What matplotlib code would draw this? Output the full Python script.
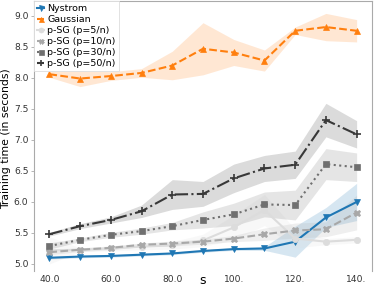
import matplotlib
matplotlib.use("Agg")
import matplotlib.pyplot as plt
import numpy as np

s = [40, 50, 60, 70, 80, 90, 100, 110, 120, 130, 140]
xtick_vals = [40, 60, 80, 100, 120, 140]
xtick_labels = ["40.0", "60.0", "80.0", "100.", "120.", "140."]
ytick_vals = [5.0, 5.5, 6.0, 6.5, 7.0, 7.5, 8.0, 8.5, 9.0]

nystrom = [5.10, 5.12, 5.13, 5.15, 5.17, 5.21, 5.24, 5.25, 5.36, 5.75, 6.00]
nystrom_std = [0.02, 0.02, 0.02, 0.02, 0.02, 0.02, 0.02, 0.03, 0.25, 0.16, 0.30]
gaussian = [8.06, 7.99, 8.03, 8.08, 8.20, 8.47, 8.41, 8.28, 8.76, 8.82, 8.76]
gaussian_std = [0.05, 0.13, 0.07, 0.07, 0.23, 0.42, 0.21, 0.17, 0.06, 0.22, 0.18]
psg5 = [5.22, 5.23, 5.25, 5.28, 5.30, 5.38, 5.59, 5.87, 5.41, 5.36, 5.39]
psg5_std = [0.22, 0.03, 0.04, 0.05, 0.06, 0.10, 0.20, 0.25, 0.15, 0.05, 0.05]
psg10 = [5.19, 5.23, 5.26, 5.31, 5.33, 5.36, 5.41, 5.48, 5.54, 5.56, 5.83]
psg10_std = [0.04, 0.03, 0.03, 0.03, 0.04, 0.04, 0.05, 0.10, 0.12, 0.12, 0.28]
psg30 = [5.29, 5.39, 5.47, 5.53, 5.61, 5.71, 5.80, 5.96, 5.95, 6.61, 6.56]
psg30_std = [0.05, 0.03, 0.04, 0.05, 0.06, 0.13, 0.18, 0.20, 0.24, 0.25, 0.23]
psg50 = [5.48, 5.61, 5.71, 5.85, 6.12, 6.13, 6.38, 6.54, 6.60, 7.32, 7.09]
psg50_std = [0.03, 0.04, 0.05, 0.10, 0.24, 0.20, 0.23, 0.21, 0.22, 0.27, 0.22]

series = [
    ("Nystrom", nystrom, nystrom_std, "#1f77b4", "-", "v"),
    ("Gaussian", gaussian, gaussian_std, "#ff7f0e", "--", "^"),
    ("p-SG (p=5/n)", psg5, psg5_std, "#dcdcdc", "-", "o"),
    ("p-SG (p=10/n)", psg10, psg10_std, "#a8a8a8", "--", "X"),
    ("p-SG (p=30/n)", psg30, psg30_std, "#707070", ":", "s"),
    ("p-SG (p=50/n)", psg50, psg50_std, "#383838", "-.", "+"),
]

fig = plt.figure(figsize=(3.74, 2.88), dpi=100)
ax = fig.add_axes([34 / 374, 17 / 288, 338 / 374, 270 / 288])

x = np.array(s)
for label, vals, std, color, ls, mk in series:
    v = np.array(vals)
    sd = np.array(std)
    ax.fill_between(x, v - sd, v + sd, color=color, alpha=0.18, linewidth=0)
for label, vals, std, color, ls, mk in series:
    if mk == "+":
        ms, mew = 6, 1.2
    else:
        ms, mew = 4.5, 0.5
    ax.plot(x, vals, color=color, linestyle=ls, marker=mk, markersize=ms,
            linewidth=1.5, label=label, markeredgewidth=mew)

ax.set_xlim(35, 145)
ax.set_ylim(4.887, 9.24)
ax.set_xticks(xtick_vals)
ax.set_xticklabels(xtick_labels)
ax.set_yticks(ytick_vals)
ax.set_yticklabels([f"{t:.1f}" for t in ytick_vals])
ax.tick_params(axis="both", labelsize=6.6, colors="#333333", length=2, width=0.6)
ax.tick_params(axis="x", length=0, pad=3)
ax.tick_params(axis="y", color="#aaaaaa", pad=2)
for sp in ["left", "right", "top"]:
    ax.spines[sp].set_color("#aaaaaa")
    ax.spines[sp].set_linewidth(0.8)
ax.spines["bottom"].set_visible(False)

ax.set_ylabel("Training time (in seconds)", fontsize=7.8)
ax.yaxis.set_label_coords(-0.068, 0.49)
ax.set_xlabel("s", fontsize=9, labelpad=-7)

leg = ax.legend(loc="upper left", fontsize=6.8, handlelength=0.8,
                handletextpad=0.3, labelspacing=0.22, borderpad=0.3,
                borderaxespad=0.0, frameon=True, fancybox=False,
                framealpha=1.0, edgecolor="#dddddd", markerscale=0.8)
leg.get_frame().set_linewidth(0.6)

fig.savefig("out.png", dpi=100)
